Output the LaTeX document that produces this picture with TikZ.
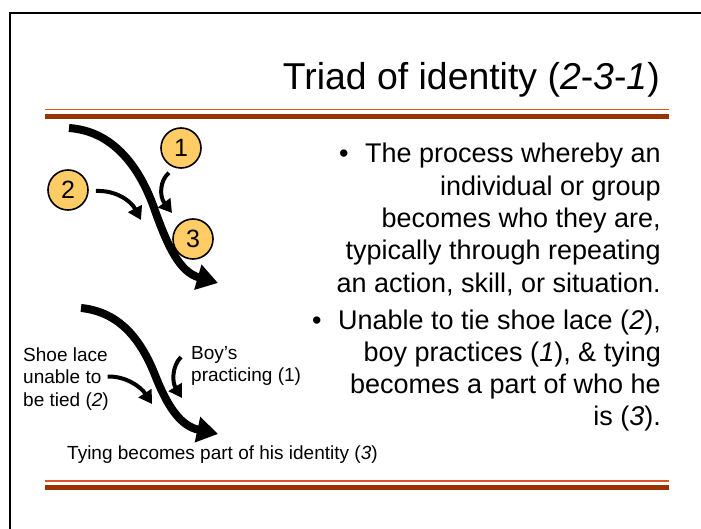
\documentclass[tikz,border=0pt]{standalone}
\usepackage{fontspec}
\setmainfont{Liberation Sans}
\usetikzlibrary{arrows.meta}

\definecolor{rulethin}{RGB}{221,84,34}
\definecolor{rulethick}{RGB}{153,51,0}
\definecolor{disc}{RGB}{255,204,102}

\tikzset{
  title/.style={anchor=base east, inner sep=0pt, font=\fontsize{37.4}{44}\selectfont},
  bodyline/.style={anchor=base east, inner sep=0pt, font=\fontsize{27}{32}\selectfont},
  bulletmark/.style={anchor=base west, inner sep=0pt, font=\fontsize{27}{32}\selectfont},
  label/.style={anchor=base west, inner sep=0pt, font=\fontsize{19}{22}\selectfont},
  numdisc/.style={circle, draw=black, line width=1.6pt, fill=disc, minimum size=40pt,
    inner sep=0pt, font=\fontsize{25}{30}\selectfont},
  bigflow/.style={line width=8pt, -{Triangle[length=21pt,width=25pt]}},
  smallflow/.style={line width=4pt, -{Triangle[length=13pt,width=15pt]}},
}

\begin{document}
\begin{tikzpicture}[x=1pt, y=-1pt]
\useasboundingbox (0,0) rectangle (701,529);

% slide frame (right and bottom edges lie off the page)
\draw[line width=2pt] (10,560) -- (10,13) -- (720,13);

% title
\node[title] (ttl) at (660,90) {Triad of identity (\textit{2}-\textit{3}-\textit{1})};

% double rules
\draw[rulethin, line width=1.6pt] (45,109.5) -- (669,109.5);
\draw[rulethick, line width=5.5pt] (45,116.5) -- (669,116.5);
\draw[rulethin, line width=1.6pt] (45,481) -- (669,481);
\draw[rulethick, line width=5.5pt] (45,487.5) -- (669,487.5);

% upper diagram: numbered stages
\node[numdisc] (n1) at (181,148) {1};
\node[numdisc] (n2) at (68,190) {2};
\node[numdisc] (n3) at (193,239) {3};

\coordinate (s0) at (69,128);
\coordinate (s1) at (218,283);
\draw[bigflow] (s0) .. controls (112,131) and (138,165) .. (153,205)
                    .. controls (168,248) and (180,272) .. (s1);

\coordinate (a2) at (141,220);
\draw[smallflow] (n2.east) ++(7,1) .. controls (116,190) and (131,201) .. (a2);
\coordinate (a1) at (172,213);
\draw[smallflow] (n1.south) ++(-12,4) .. controls (160,180) and (159,196) .. (a1);

% lower diagram: worked example
\coordinate (t0) at (81,308);
\coordinate (t1) at (218,434);
\draw[bigflow] (t0) .. controls (120,312) and (141,340) .. (155,375)
                    .. controls (168,408) and (181,426) .. (t1);

\node[label] (shoe1) at (23,361) {Shoe lace};
\node[label] (shoe2) at (23,383.5) {unable to};
\node[label] (shoe3) at (23,406) {be tied (\textit{2})};
\node[label] (boy1) at (191,359) {Boy’s};
\node[label] (boy2) at (191,381.5) {practicing (1)};
\node[label] (tying) at (67,459) {Tying becomes part of his identity (\textit{3})};

\coordinate (b2) at (152,404);
\draw[smallflow] (shoe2.base east) ++(6,-7) .. controls (126,376) and (141,387) .. (b2);
\coordinate (b1) at (182,398);
\draw[smallflow] (boy1.base west) ++(-10,-2) .. controls (172,366) and (172,382) .. (b1);

% bullet text, right aligned
\node[bulletmark] (bu1) at (339,163) {•};
\node[bodyline] (p1) at (661,163) {The process whereby an};
\node[bodyline] (p2) at (661,195.3) {individual or group};
\node[bodyline] (p3) at (661,227.6) {becomes who they are,};
\node[bodyline] (p4) at (661,259.9) {typically through repeating};
\node[bodyline] (p5) at (661,292.2) {an action, skill, or situation.};
\node[bulletmark] (bu2) at (312,329) {•};
\node[bodyline] (q1) at (661,329) {Unable to tie shoe lace (\textit{2}),};
\node[bodyline] (q2) at (661,361.3) {boy practices (\textit{1}), \& tying};
\node[bodyline] (q3) at (661,393.6) {becomes a part of who he};
\node[bodyline] (q4) at (661,425.9) {is (\textit{3}).};
\end{tikzpicture}
\end{document}
